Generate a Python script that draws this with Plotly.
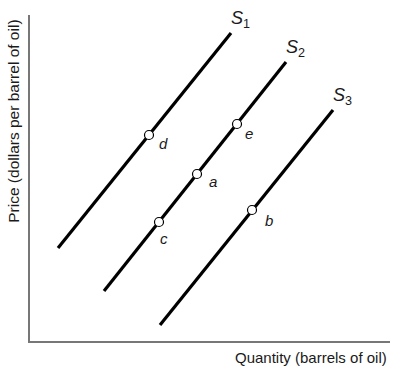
import plotly.graph_objects as go

# Supply curves (quantity, price) endpoints in chart units
curve_names = ["S1", "S2", "S3"]
curve_labels = ["<i>S</i><sub>1</sub>", "<i>S</i><sub>2</sub>", "<i>S</i><sub>3</sub>"]
curve_x = [[28, 201], [74, 256], [130, 303]]
curve_y = [[93, 308], [50, 279], [16, 231]]

# Equilibrium points
point_names = ["d", "e", "a", "c", "b"]
point_x = [119, 207, 167, 129, 222]
point_y = [206, 217, 167, 119, 131]

fig = go.Figure()
for name, xs, ys in zip(curve_names, curve_x, curve_y):
    fig.add_trace(go.Scatter(x=xs, y=ys, mode="lines", name=name,
                             line=dict(color="black", width=3.2), hoverinfo="skip"))

fig.add_trace(go.Scatter(x=point_x, y=point_y, mode="markers", name="points",
                         marker=dict(size=9, color="white", line=dict(color="black", width=1.2))))

font = dict(family="Liberation Sans, Arial, sans-serif", color="#1a1a1a")
annotations = []
# curve labels near upper ends
for lab, xs, ys in zip(curve_labels, curve_x, curve_y):
    annotations.append(dict(x=xs[1], y=ys[1], text=lab, showarrow=False, xref="x", yref="y",
                            xshift=9, yshift=14, font=dict(size=18, **font)))
# point labels below-right
offsets = {"d": (14, -8), "e": (12, -9), "a": (16, -7), "c": (5, -16), "b": (17, -10)}
for n, x, y in zip(point_names, point_x, point_y):
    dx, dy = offsets[n]
    annotations.append(dict(x=x, y=y, text="<i>" + n + "</i>", showarrow=False, xref="x", yref="y",
                            xshift=dx, yshift=dy, font=dict(size=15, **font)))

annotations.append(dict(x=-0.045, y=0.675, xref="paper", yref="paper", text="Price (dollars per barrel of oil)",
                        textangle=-90, showarrow=False, xanchor="center", yanchor="middle",
                        font=dict(size=15.5, **font)))
annotations.append(dict(x=0.997, y=-0.052, xref="paper", yref="paper", text="Quantity (barrels of oil)",
                        showarrow=False, xanchor="right", yanchor="middle",
                        font=dict(size=15, **font)))

fig.update_layout(
    width=409, height=373,
    margin=dict(l=30, r=19, t=15, b=32),
    paper_bgcolor="white", plot_bgcolor="white",
    showlegend=False,
    annotations=annotations,
    xaxis=dict(range=[0, 360], showgrid=False, zeroline=False, showticklabels=False, ticks="",
               showline=True, linecolor="#777", linewidth=1.5),
    yaxis=dict(range=[0, 326], showgrid=False, zeroline=False, showticklabels=False, ticks="",
               showline=True, linecolor="#777", linewidth=1.5),
)

fig.write_html("out.html")
